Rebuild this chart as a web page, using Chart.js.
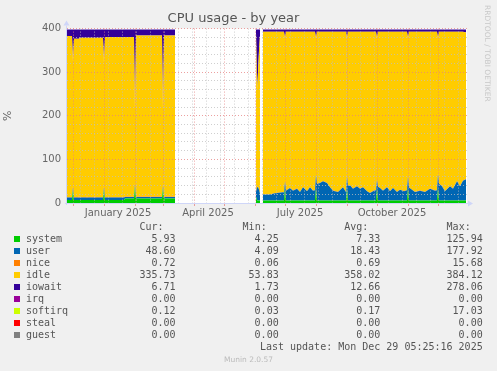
<!DOCTYPE html>
<html>
<head>
<meta charset="utf-8">
<title>CPU usage - by year</title>
<script src="https://cdn.jsdelivr.net/npm/chart.js@4.4.1/dist/chart.umd.min.js"></script>
<style>
  body { margin: 0; width: 497px; height: 371px; overflow: hidden; position: relative; background: #f0f0f0; font-family: 'DejaVu Sans', sans-serif; }
  #contenedor { position: absolute; left: 0; top: 0; width: 497px; height: 222px; }
  #rrd { position: absolute; left: 483px; top: 5px; writing-mode: vertical-rl; font-size: 7.5px; line-height: 8px; color: #c8c8c8; }
  .fila { position: absolute; left: 0; width: 497px; height: 12px; line-height: 12px; font: 10px 'DejaVu Sans Mono', monospace; color: #555; white-space: pre; }
  .celda { position: absolute; top: 0; width: 80px; text-align: right; }
  .caja { position: absolute; left: 14px; top: 3px; width: 6px; height: 6px; }
  #version { position: absolute; left: 0; top: 355px; width: 497px; text-align: center; font-size: 7.5px; line-height: 9px; color: #bbb; }
</style>
</head>
<body>
<div id="contenedor"><canvas id="grafica"></canvas></div>
<div id="rrd">RRDTOOL / TOBI OETIKER</div>
<div id="leyenda"></div>
<div id="version">Munin 2.0.57</div>
<script>
// Dias desde el 25 nov 2024 (un dia = un pixel en la grafica original)
const dias = [
  0, 4, 5, 6, 7, 11, 12, 13, 19, 20,
  21, 27, 28, 29, 36, 37, 38, 57, 58, 67,
  68, 69, 95, 96, 97, 108,
  109, 188,
  189, 190, 191, 192, 193,
  194,
  196, 203, 208, 216, 217, 218, 219, 223, 226, 230,
  233, 236, 240, 243, 246, 248, 249, 250, 253, 256,
  260, 263, 266, 271, 276, 279, 280, 281, 283, 286,
  290, 293, 296, 300, 303, 307, 309, 310, 311, 313,
  316, 320, 323, 326, 330, 333, 337, 340, 341, 342,
  345, 348, 353, 358, 363, 368, 370, 371, 372, 375,
  378, 383, 386, 390, 393, 396, 399
];

const system = [
  7, 7, 7, 30, 7, 7, 7, 7, 7, 7,
  7, 7, 7, 7, 7, 30, 7, 7, 10.5, 10.5,
  38, 10.5, 10.5, 35, 10.5, 10.5,
  null, null,
  15, 6, 6, 6, 6,
  null,
  6, 6, 6, 6, 6, 35, 6, 6, 6, 6,
  6, 6, 6, 6, 6, 6, 35, 6, 6, 6,
  6, 6, 6, 6, 6, 6, 35, 6, 6, 6,
  6, 6, 6, 6, 6, 6, 6, 35, 6, 6,
  6, 6, 6, 6, 6, 6, 6, 6, 35, 6,
  6, 6, 6, 6, 6, 6, 6, 35, 6, 6,
  6, 6, 6, 6, 6, 6, 5.93
];

const user = [
  5.5, 5.5, 5.5, 6, 5.5, 5.5, 5, 5.5, 5.5, 5,
  5.5, 5.5, 5, 5.5, 5.5, 6, 5.5, 5.5, 3.5, 3.5,
  5, 3.5, 3.5, 5, 3.5, 3.5,
  null, null,
  10, 30, 30, 25, 15,
  null,
  13.3, 13.6, 16.3, 18.6, 18.3, 14.3, 22.3, 28.3, 22.3, 26.9,
  19.3, 30, 20.9, 30, 22.3, 23.3, 30.3, 37.3, 40, 43.8,
  40, 30, 22.3, 19.3, 30, 19.3, 26.3, 33.3, 34.6, 26.9,
  32.3, 26.9, 30, 20.9, 17, 22.3, 23.3, 18.3, 31.3, 28.3,
  22.3, 30, 20.9, 28.3, 19.3, 24.3, 20.9, 23.3, 26.3, 29.3,
  24.3, 19.3, 22.3, 19.3, 26.9, 22.3, 23.3, 31.3, 38.3, 32.3,
  20.9, 32.3, 26.9, 43.8, 32.3, 45.3, 48.6
];

const nice = [
  1, 1, 1, 1, 1, 1, 3, 1, 1, 3,
  1, 1, 3, 1, 1, 1, 1, 1, 1, 1,
  1, 1, 1, 1, 1, 1,
  null, null,
  1, 1, 1, 1, 1,
  null,
  0.7, 0.7, 0.7, 0.7, 0.7, 0.7, 0.7, 0.7, 0.7, 0.7,
  0.7, 0.7, 0.7, 0.7, 0.7, 0.7, 0.7, 0.7, 0.7, 0.7,
  0.7, 0.7, 0.7, 0.7, 0.7, 0.7, 0.7, 0.7, 0.7, 0.7,
  0.7, 0.7, 0.7, 0.7, 0.7, 0.7, 0.7, 0.7, 0.7, 0.7,
  0.7, 0.7, 0.7, 0.7, 0.7, 0.7, 0.7, 0.7, 0.7, 0.7,
  0.7, 0.7, 0.7, 0.7, 0.7, 0.7, 0.7, 0.7, 0.7, 0.7,
  0.7, 0.7, 0.7, 0.7, 0.7, 0.7, 0.72
];

const idle = [
  369.5, 369.5, 369.5, 288, 363.5, 363.5, 362, 365.5, 365.5, 364,
  365.5, 365.5, 364, 365.5, 365.5, 285, 367.5, 367.5, 366, 366,
  170, 369, 369, 173, 369, 369,
  null, null,
  366, 223, 263, 318, 363,
  null,
  372.9, 372.6, 369.9, 367.6, 367.9, 327.9, 363.9, 357.9, 363.9, 359.3,
  366.9, 356.2, 365.3, 356.2, 363.9, 362.9, 311.9, 348.9, 346.2, 342.4,
  346.2, 356.2, 363.9, 366.9, 356.2, 366.9, 315.9, 352.9, 351.6, 359.3,
  353.9, 359.3, 356.2, 365.3, 369.2, 363.9, 362.9, 323.9, 354.9, 357.9,
  363.9, 356.2, 365.3, 357.9, 366.9, 361.9, 365.3, 362.9, 315.9, 356.9,
  361.9, 366.9, 363.9, 366.9, 359.3, 363.9, 362.9, 310.9, 347.9, 353.9,
  365.3, 353.9, 359.3, 342.4, 353.9, 340.9, 335.73
];

const iowait = [
  15, 15, 15, 73, 21, 21, 21, 19, 19, 19,
  19, 19, 19, 19, 19, 76, 17, 17, 17, 17,
  184, 14, 14, 184, 14, 14,
  null, null,
  6, 138, 98, 48, 13,
  null,
  5, 5, 5, 5, 5, 20, 5, 5, 5, 5,
  5, 5, 5, 5, 5, 5, 20, 5, 5, 5,
  5, 5, 5, 5, 5, 5, 20, 5, 5, 5,
  5, 5, 5, 5, 5, 5, 5, 20, 5, 5,
  5, 5, 5, 5, 5, 5, 5, 5, 20, 5,
  5, 5, 5, 5, 5, 5, 5, 20, 5, 5,
  5, 5, 5, 5, 5, 5, 6.71
];

// irq, softirq, steal y guest se leen planos (la leyenda da 0.00 / 0.17)
const plano = v => iowait.map(x => x === null ? null : v);
const irq = plano(0);
const softirq = plano(0.15);
const steal = plano(0);
const guest = plano(0);

// Ejes
const inicioMes = [6, 37, 68, 96, 127, 157, 188, 218, 249, 280, 310, 341, 371];
const quincenas = [13, 27, 41, 55, 69, 83, 97, 111, 125, 139, 153, 167, 181, 195,
  209, 223, 237, 251, 265, 279, 293, 307, 321, 335, 349, 363, 377, 391];
const etiquetaDias = [51, 141, 233, 325];
const etiquetaTextos = ['January 2025', 'April 2025', 'July 2025', 'October 2025'];
const yTicks = [0, 20, 40, 60, 80, 100, 120, 140, 160, 180, 200,
  220, 240, 260, 280, 300, 320, 340, 360, 380, 400];

// Leyenda
const nombres = ['system', 'user', 'nice', 'idle', 'iowait', 'irq', 'softirq', 'steal', 'guest'];
const colores = ['#00CC00', '#0066B3', '#FF8000', '#FFCC00', '#330099', '#990099', '#CCFF00', '#FF0000', '#808080'];
const cur = ['5.93', '48.60', '0.72', '335.73', '6.71', '0.00', '0.12', '0.00', '0.00'];
const min = ['4.25', '4.09', '0.06', '53.83', '1.73', '0.00', '0.03', '0.00', '0.00'];
const avg = ['7.33', '18.43', '0.69', '358.02', '12.66', '0.00', '0.17', '0.00', '0.00'];
const max = ['125.94', '177.92', '15.68', '384.12', '278.06', '0.00', '17.03', '0.00', '0.00'];

const datos = [system, user, nice, idle, iowait, irq, softirq, steal, guest];

const MAYOR = 'rgba(230,128,128,0.75)';
const MENOR = 'rgba(191,191,191,0.75)';
const NADA = 'rgba(0,0,0,0)';
const EJE = '#CFD6F8';

Chart.defaults.font.family = "'DejaVu Sans', sans-serif";
Chart.defaults.color = '#666';

// fondo blanco del area, lineas de los ejes y flechas
const decorado = {
  id: 'decorado',
  beforeDraw(chart) {
    const { ctx, chartArea: a } = chart;
    ctx.save();
    ctx.fillStyle = '#ffffff';
    ctx.fillRect(a.left, a.top, a.right - a.left, a.bottom - a.top);
    ctx.restore();
  },
  afterDraw(chart) {
    const { ctx, chartArea: a } = chart;
    ctx.save();
    ctx.strokeStyle = EJE;
    ctx.lineWidth = 1;
    ctx.beginPath();
    ctx.moveTo(a.left - 2, a.bottom + 0.5);
    ctx.lineTo(a.right + 2, a.bottom + 0.5);
    ctx.moveTo(a.left - 0.5, a.bottom + 2);
    ctx.lineTo(a.left - 0.5, a.top - 3);
    ctx.stroke();
    ctx.fillStyle = EJE;
    ctx.beginPath();
    ctx.moveTo(a.right + 1, a.bottom - 2.5);
    ctx.lineTo(a.right + 6, a.bottom + 0.5);
    ctx.lineTo(a.right + 1, a.bottom + 3.5);
    ctx.fill();
    ctx.beginPath();
    ctx.moveTo(a.left - 3.5, a.top - 3);
    ctx.lineTo(a.left - 0.5, a.top - 8);
    ctx.lineTo(a.left + 2.5, a.top - 3);
    ctx.fill();
    ctx.restore();
  }
};

const ctx = document.getElementById('grafica').getContext('2d');
new Chart(ctx, {
  type: 'line',
  data: {
    labels: dias,
    datasets: nombres.map((n, i) => ({
      label: n,
      data: datos[i],
      backgroundColor: colores[i],
      borderColor: colores[i],
      borderWidth: 0,
      pointRadius: 0,
      tension: 0,
      fill: i === 0 ? 'origin' : '-1'
    }))
  },
  options: {
    responsive: true,
    maintainAspectRatio: false,
    animation: false,
    events: [],
    layout: { padding: { left: 0, right: 30, top: 0, bottom: 0 } },
    plugins: {
      legend: { display: false },
      tooltip: { enabled: false },
      title: {
        display: true,
        text: 'CPU usage - by year',
        color: '#555',
        font: { size: 13, weight: 'normal' },
        padding: { top: 11, bottom: 2 }
      }
    },
    scales: {
      x: {
        type: 'linear',
        min: 0,
        max: 400,
        afterBuildTicks: s => {
          s.ticks = [...inicioMes, ...quincenas, ...etiquetaDias]
            .sort((a, b) => a - b)
            .map(v => ({ value: v }));
        },
        afterFit: s => { s.height = 19; },
        ticks: {
          autoSkip: false,
          maxRotation: 0,
          padding: 1,
          font: { size: 10 },
          color: '#666',
          callback: v => {
            const k = etiquetaDias.indexOf(v);
            return k >= 0 ? etiquetaTextos[k] : '';
          }
        },
        grid: {
          z: 1,
          tickLength: 3,
          color: c => {
            const v = c.tick ? c.tick.value : null;
            if (inicioMes.includes(v)) return MAYOR;
            if (quincenas.includes(v)) return MENOR;
            return NADA;
          },
          tickColor: c => (c.tick && inicioMes.includes(c.tick.value)) ? MAYOR : NADA
        },
        border: { display: false, dash: [1, 2] }
      },
      y: {
        stacked: true,
        min: 0,
        max: 400,
        afterBuildTicks: s => { s.ticks = yTicks.map(v => ({ value: v })); },
        afterFit: s => { s.width = 67; },
        title: {
          display: true,
          text: '%',
          color: '#666',
          font: { size: 11 },
          padding: { top: 2, bottom: 0 }
        },
        ticks: {
          autoSkip: false,
          padding: 6,
          font: { size: 10 },
          color: '#666',
          callback: v => (v % 100 === 0 ? v : '')
        },
        grid: {
          z: 1,
          drawTicks: false,
          color: c => (c.tick && c.tick.value % 100 === 0) ? MAYOR : MENOR
        },
        border: { display: false, dash: [1, 2] }
      }
    }
  },
  plugins: [decorado]
});

// Leyenda al estilo munin
const leyenda = document.getElementById('leyenda');
const finCols = [175.5, 278.7, 380.3, 482.7];

function fila(top) {
  const d = document.createElement('div');
  d.className = 'fila';
  d.style.top = top + 'px';
  leyenda.appendChild(d);
  return d;
}

function celda(padre, texto, fin) {
  const s = document.createElement('span');
  s.className = 'celda';
  s.style.left = (fin - 80) + 'px';
  s.textContent = texto;
  padre.appendChild(s);
}

const cab = fila(221.3);
['Cur:', 'Min:', 'Avg:', 'Max:'].forEach((t, i) => celda(cab, t, finCols[i] - 12));

nombres.forEach((n, i) => {
  const f = fila(233.3 + i * 12);
  const caja = document.createElement('span');
  caja.className = 'caja';
  caja.style.background = colores[i];
  f.appendChild(caja);
  const nom = document.createElement('span');
  nom.style.position = 'absolute';
  nom.style.left = '26px';
  nom.textContent = n;
  f.appendChild(nom);
  [cur[i], min[i], avg[i], max[i]].forEach((t, k) => celda(f, t, finCols[k]));
});

const ult = fila(341.3);
const s = document.createElement('span');
s.className = 'celda';
s.style.left = (482.7 - 300) + 'px';
s.style.width = '300px';
s.textContent = 'Last update: Mon Dec 29 05:25:16 2025';
ult.appendChild(s);
</script>
</body>
</html>
